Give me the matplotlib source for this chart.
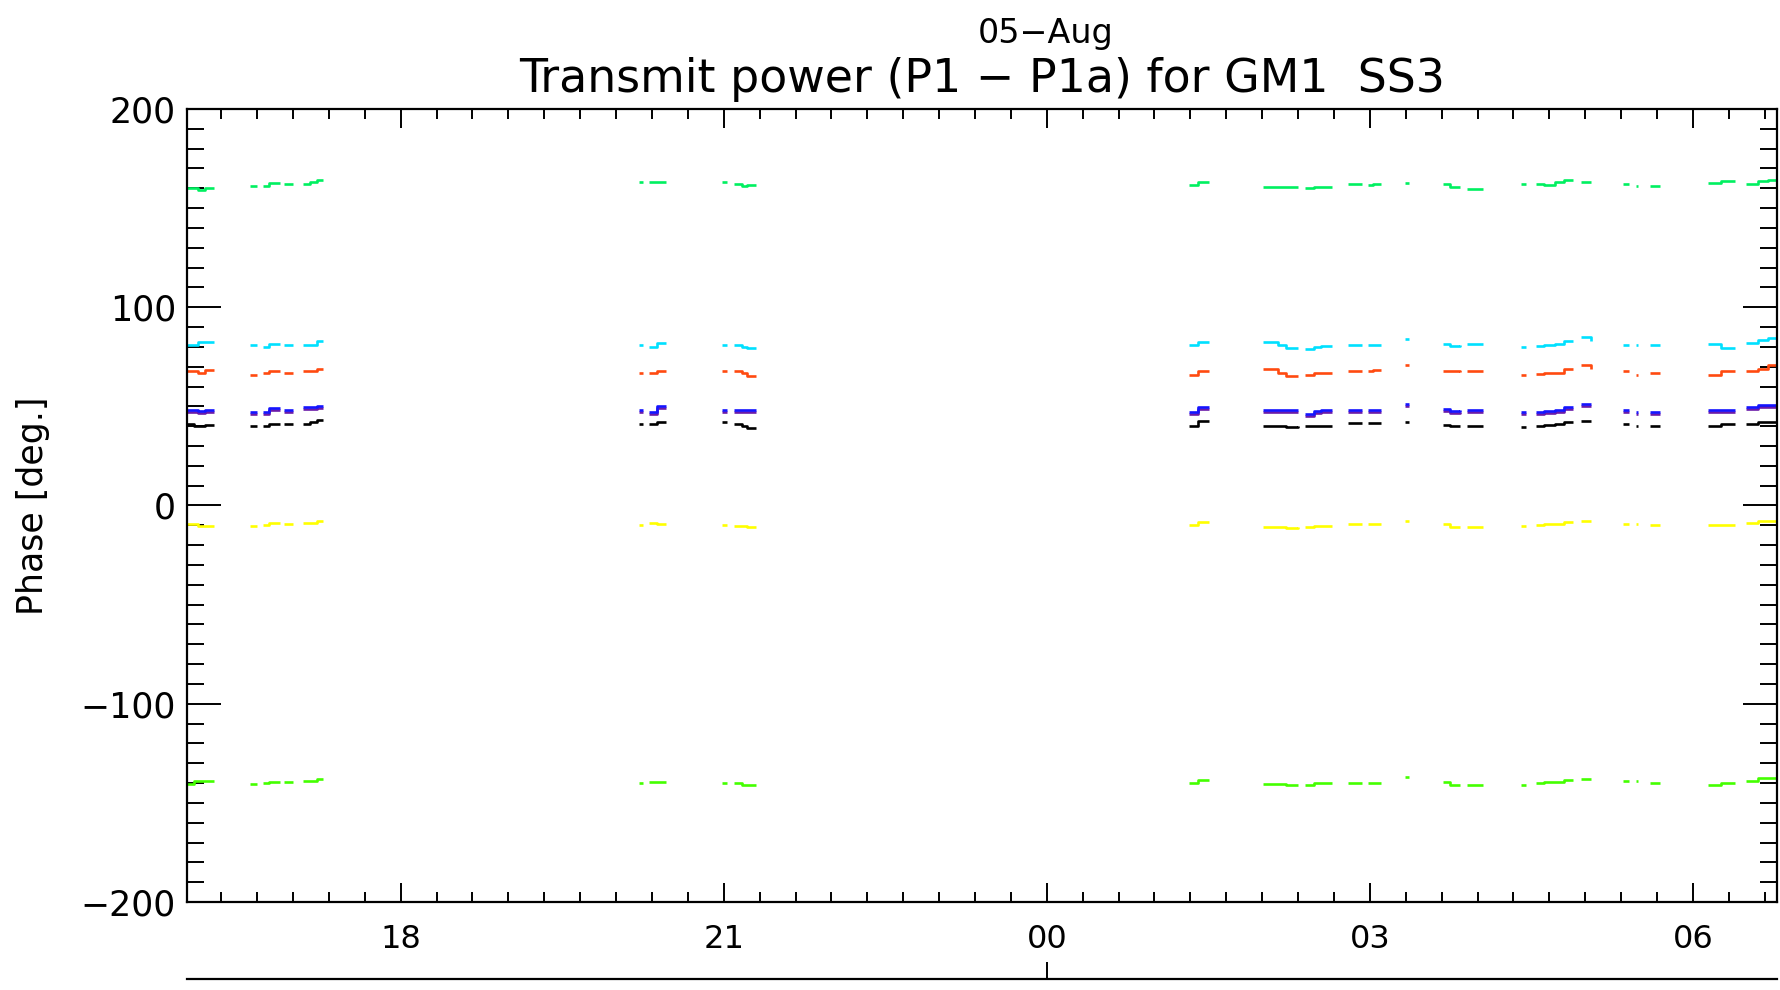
import matplotlib
matplotlib.use('Agg')
import matplotlib.pyplot as plt
from matplotlib.ticker import MultipleLocator, FixedLocator, FixedFormatter

# time of each data run, hours since 04-Aug 00:00 (24 = 05-Aug 00:00)
times = [
    [16.02, 16.08, 16.12, 16.18, 16.27],
    [16.60, 16.67],
    [16.72, 16.78, 16.88],
    [16.92, 17.00],
    [17.09, 17.16, 17.22, 17.28],
    [20.21, 20.25],
    [20.31, 20.38, 20.46],
    [20.98, 21.03],
    [21.10, 21.17, 21.22, 21.30],
    [25.32, 25.40, 25.51],
    [26.01, 26.15, 26.22, 26.33],
    [26.40, 26.48, 26.55, 26.65],
    [26.80, 26.86, 26.93],
    [26.98, 27.03, 27.10],
    [27.33, 27.36],
    [27.68, 27.74, 27.84],
    [27.90, 28.05],
    [28.40, 28.45],
    [28.54, 28.62, 28.72, 28.80, 28.89],
    [28.96, 29.05],
    [29.35, 29.41],
    [29.47, 29.49],
    [29.60, 29.69],
    [30.14, 30.26, 30.39],
    [30.49, 30.60, 30.70, 30.78],
]

green_hi = [
    [160, 160, 159, 160, 160], [161, 161], [161, 162.5, 162.5], [162, 162],
    [162, 163, 164, 164], [163, 163], [163, 163, 163], [163, 163],
    [162, 161, 161.5, 161.5], [161.5, 163, 163], [160.5, 160.5, 160.5, 160.5],
    [160, 160.5, 160.5, 160.5], [162, 162, 162], [161.5, 162, 162], [162.5, 162.5],
    [162, 160.5, 160.5], [159.5, 159.5], [162, 162], [162, 161.5, 163, 164, 164],
    [163, 163], [162, 162], [161, 161], [161, 161], [162.5, 163.5, 163.5],
    [162, 163.5, 164, 164],
]

cyan = [
    [81, 81, 82.5, 82.5, 82.5], [81, 81], [80, 81.5, 81.5], [81, 81],
    [81, 81, 83, 83], [81, 81], [80, 82, 82], [81, 81],
    [81, 80, 79.5, 79.5], [81, 82.5, 82.5], [82.5, 81, 79.5, 79.5],
    [79, 80, 80.5, 80.5], [81, 81, 81], [81, 81, 81], [84, 84],
    [81.5, 80.5, 81], [81.5, 81.5], [80, 80], [80.5, 81, 81.5, 83, 83],
    [85, 83], [81, 81], [81, 81], [81, 81], [81.5, 79.5, 79.5],
    [82, 83.5, 84.5, 84.5],
]

orange = [
    [68, 68, 67, 68.5, 68.5], [66, 66], [67, 68, 68], [67, 67],
    [68, 68, 69, 69], [67, 67], [67, 68, 68], [68, 68],
    [68, 67, 65.5, 65.5], [66, 68, 68], [69, 67, 65.5, 65.5],
    [66, 67, 67, 67], [68, 68, 68], [68, 68.5, 68.5], [71, 71],
    [68, 68, 67.5], [68, 68], [66, 66], [66.5, 67, 67, 69, 69],
    [71, 69], [68, 68], [66, 66], [67, 67], [66, 68, 68],
    [68, 69, 71, 71],
]

purple = [
    [47, 47, 46.5, 47, 47], [46, 46], [46, 48, 48], [47, 47],
    [48.5, 48.5, 49, 49], [47, 47], [46, 49, 49], [47, 47],
    [47, 47, 47, 47], [46, 48.5, 48.5], [47, 47, 47, 47],
    [45, 46.5, 47, 47], [47, 47, 47], [47, 47, 47], [50, 50],
    [47.5, 46.5, 47], [47, 47], [46, 46], [46, 46.5, 47, 48.5, 48.5],
    [50, 50], [47, 47], [46, 46], [46, 46], [47, 47, 47],
    [48.5, 49.5, 49.5, 49.5],
]

blue = [
    [48, 48, 47.5, 48, 48], [47, 47], [47, 49, 49], [48, 48],
    [49.5, 49.5, 50, 50], [48, 48], [47, 50, 50], [48, 48],
    [48, 48, 48, 48], [47, 49.5, 49.5], [48, 48, 48, 48],
    [46, 47.5, 48, 48], [48, 48, 48], [48, 48, 48], [51, 51],
    [48.5, 47.5, 48], [48, 48], [47, 47], [47, 47.5, 48, 49.5, 49.5],
    [51, 51], [48, 48], [47, 47], [47, 47], [48, 48, 48],
    [49.5, 50.5, 50.5, 50.5],
]

black = [
    [41, 40, 40, 40.5, 40.5], [40, 40], [40, 41, 41], [41, 41],
    [41, 42, 43, 43], [41, 41], [41, 42, 42], [42, 42],
    [41, 40, 39, 39], [40, 42.5, 42.5], [40, 40, 39.5, 40],
    [40, 40, 40, 40], [41.5, 41.5, 41.5], [41.5, 41.5, 41.5], [42, 42],
    [40.5, 40, 40], [40, 40], [39.5, 39.5], [40, 40.5, 41, 42, 42],
    [42.5, 42.5], [41, 41], [40, 40], [40, 40], [40, 41, 41],
    [41, 42, 42, 42],
]

yellow = [
    [-9.5, -9.5, -10.5, -10.5, -10.5], [-10.5, -10.5], [-10, -9, -9], [-9.5, -9.5],
    [-9, -9, -8, -8], [-10, -10], [-9, -9.5, -9.5], [-10, -10],
    [-10.5, -10.5, -11, -11], [-10, -8.5, -8.5], [-11, -11, -11.5, -11],
    [-11, -10.5, -10.5, -10.5], [-9.5, -9.5, -9.5], [-9.5, -9.5, -9.5], [-8, -8],
    [-9.5, -11, -11], [-11, -11], [-10.5, -10.5], [-10, -9.5, -9.5, -8.5, -8.5],
    [-8, -8], [-9.5, -9.5], [-9.5, -9.5], [-10, -10], [-10, -10, -10],
    [-9, -8, -8, -8],
]

green_lo = [
    [-140.5, -139, -139, -139, -139], [-140.5, -140.5], [-140, -139.5, -139.5], [-139.5, -139.5],
    [-139, -139, -138, -138], [-140, -140], [-139.5, -139.5, -139.5], [-140, -140],
    [-140, -141, -141, -141], [-140, -138.5, -138.5], [-140.5, -140.5, -141, -141],
    [-141, -140, -140, -140], [-140, -140, -140], [-140, -140, -140], [-137, -137],
    [-139.5, -141, -141], [-141, -141], [-141, -141], [-140, -139.5, -139.5, -138.5, -138.5],
    [-138, -138], [-139, -139], [-139, -139], [-140, -140], [-141, -140, -140],
    [-139, -137.5, -137.5, -137.5],
]

series = [
    (green_hi, '#00f060'),
    (cyan, '#00e0ff'),
    (orange, '#ff4a10'),
    (purple, '#6a1aa8'),
    (blue, '#1414ff'),
    (black, '#000000'),
    (yellow, '#ffff00'),
    (green_lo, '#44ff00'),
]

x_major = [18, 21, 24, 27, 30]
x_labels = ['18', '21', '00', '03', '06']

plt.rcParams['font.family'] = ['DejaVu Sans']

fig = plt.figure(figsize=(17.8, 9.9), dpi=100)
ax = fig.add_axes([0.1051, 0.0889, 0.8932, 0.8010])

for vals, col in series:
    for t, v in zip(times, vals):
        ax.plot(t, v, color=col, lw=1.9, drawstyle='steps-post', solid_capstyle='butt')

ax.set_xlim(16.017, 30.78)
ax.set_ylim(-200, 200)

ax.xaxis.set_major_locator(FixedLocator(x_major))
ax.xaxis.set_major_formatter(FixedFormatter(x_labels))
ax.xaxis.set_minor_locator(MultipleLocator(1 / 3))
ax.yaxis.set_major_locator(MultipleLocator(100))
ax.yaxis.set_minor_locator(MultipleLocator(10))

ax.tick_params(axis='x', which='major', direction='in', length=13.5, width=1.4,
               top=True, bottom=True, labelsize=23, pad=16)
ax.tick_params(axis='x', which='minor', direction='in', length=7, width=1.4,
               top=True, bottom=True)
ax.tick_params(axis='y', which='major', direction='in', length=24.5, width=1.4,
               left=True, right=True, labelsize=25, pad=8)
ax.tick_params(axis='y', which='minor', direction='in', length=12.5, width=1.4,
               left=True, right=True)
for s in ax.spines.values():
    s.set_linewidth(1.6)

ax.set_ylabel('Phase [deg.]', fontsize=25, labelpad=22)
ax.set_title('Transmit power (P1 \u2212 P1a) for GM1  SS3', fontsize=33, pad=12)
fig.text(0.5876, 0.966, '05\u2212Aug', fontsize=24, ha='center', va='center')

# second date axis under the plot, one tick at the day boundary
ax2 = fig.add_axes([0.1051, 0.0111, 0.8932, 0.001])
ax2.set_xlim(16.017, 30.78)
for k in ['top', 'left', 'right']:
    ax2.spines[k].set_visible(False)
ax2.spines['bottom'].set_linewidth(1.6)
ax2.set_yticks([])
ax2.set_xticks([24])
ax2.set_xticklabels([''])
ax2.tick_params(axis='x', direction='in', length=12, width=1.4)
ax2.patch.set_visible(False)

fig.savefig('out.png', dpi=100)
